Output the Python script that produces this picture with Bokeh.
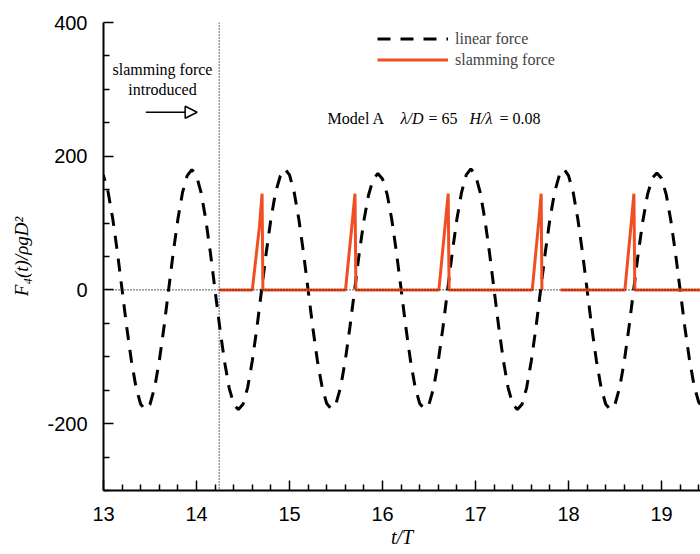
from bokeh.plotting import figure
from bokeh.models import (Range1d, FixedTicker, Legend, LegendItem, Label,
                          Arrow, NormalHead, Span)
from bokeh.embed import file_html
from bokeh.resources import INLINE

nan = float("nan")

# ---- data ----
time_linear = [
    12.95, 13.00, 13.05, 13.10, 13.15, 13.20, 13.25, 13.30, 13.35, 13.40,
    13.45, 13.50, 13.55, 13.60, 13.65, 13.70, 13.75, 13.80, 13.85, 13.90,
    13.95, 14.00, 14.05, 14.10, 14.15, 14.20, 14.25, 14.30, 14.35, 14.40,
    14.45, 14.50, 14.55, 14.60, 14.65, 14.70, 14.75, 14.80, 14.85, 14.90,
    14.95, 15.00, 15.05, 15.10, 15.15, 15.20, 15.25, 15.30, 15.35, 15.40,
    15.45, 15.50, 15.55, 15.60, 15.65, 15.70, 15.75, 15.80, 15.85, 15.90,
    15.95, 16.00, 16.05, 16.10, 16.15, 16.20, 16.25, 16.30, 16.35, 16.40,
    16.45, 16.50, 16.55, 16.60, 16.65, 16.70, 16.75, 16.80, 16.85, 16.90,
    16.95, 17.00, 17.05, 17.10, 17.15, 17.20, 17.25, 17.30, 17.35, 17.40,
    17.45, 17.50, 17.55, 17.60, 17.65, 17.70, 17.75, 17.80, 17.85, 17.90,
    17.95, 18.00, 18.05, 18.10, 18.15, 18.20, 18.25, 18.30, 18.35, 18.40,
    18.45, 18.50, 18.55, 18.60, 18.65, 18.70, 18.75, 18.80, 18.85, 18.90,
    18.95, 19.00, 19.05, 19.10, 19.15, 19.20, 19.25, 19.30, 19.35, 19.40,
    19.45,
]
linear_force = [
    180, 171, 146, 106, 56, 0, -56, -106, -146, -171,
    -179, -171, -146, -106, -56, 0, 56, 106, 146, 171,
    180, 171, 145, 105, 55, -1, -56, -106, -146, -171,
    -179, -171, -146, -106, -56, 0, 56, 106, 146, 170,
    181, 172, 146, 106, 56, 0, -56, -106, -145, -170,
    -178, -170, -145, -105, -55, 0, 55, 104, 142, 166,
    174, 166, 143, 105, 56, 1, -55, -105, -145, -170,
    -178, -171, -146, -106, -56, 0, 56, 106, 146, 172,
    181, 172, 146, 106, 56, 0, -56, -106, -146, -171,
    -179, -171, -146, -106, -56, 0, 56, 106, 146, 171,
    181, 171, 146, 106, 56, 0, -56, -106, -146, -171,
    -179, -171, -146, -106, -56, 0, 55, 104, 143, 167,
    175, 167, 143, 104, 55, 0, -55, -104, -143, -168,
    -177,
]

slam_time = [14.244,
             14.600, 14.677, 14.705, 14.714,
             15.602, 15.675, 15.704, 15.714,
             16.606, 16.677, 16.706, 16.716,
             17.610, 17.681, 17.706, 17.714, nan, 17.914,
             18.606, 18.677, 18.703, 18.713,
             19.45]
slam_force = [0,
              0, 95, 144, 0,
              0, 102, 144, 0,
              0, 102, 144, 0,
              0, 104, 144, 0, nan, 0,
              0, 104, 144, 0,
              0]

x_major = [13, 14, 15, 16, 17, 18, 19]
x_minor = [13.2, 13.4, 13.6, 13.8, 14.2, 14.4, 14.6, 14.8, 15.2, 15.4, 15.6,
           15.8, 16.2, 16.4, 16.6, 16.8, 17.2, 17.4, 17.6, 17.8, 18.2, 18.4,
           18.6, 18.8, 19.2, 19.4]
y_major = [-200, 0, 200, 400]
y_minor = [-300, -250, -150, -100, -50, 50, 100, 150, 250, 300, 350]
x_labels = ["13", "14", "15", "16", "17", "18", "19"]
y_labels = ["-200", "0", "200", "400"]

slam_start = slam_time[0]

SERIF = "Liberation Serif"
SANS = "Liberation Sans"
RED = "#f04e23"

p = figure(width=700, height=554, output_backend="svg", toolbar_location=None,
           x_range=Range1d(13, 19.419), y_range=Range1d(-300, 400),
           min_border_left=103, min_border_top=22, min_border_right=0,
           min_border_bottom=64)
p.xgrid.visible = False
p.ygrid.visible = False
p.outline_line_color = None
p.background_fill_color = "white"

p.xaxis.ticker = FixedTicker(ticks=x_major, minor_ticks=x_minor)
p.yaxis.ticker = FixedTicker(ticks=y_major, minor_ticks=y_minor)
p.xaxis.major_label_overrides = {v: s for v, s in zip(x_major, x_labels)}
p.yaxis.major_label_overrides = {v: s for v, s in zip(y_major, y_labels)}

for ax in (p.xaxis[0], p.yaxis[0]):
    ax.axis_line_width = 2
    ax.axis_line_color = "black"
    ax.major_tick_in = 10
    ax.major_tick_out = 0
    ax.minor_tick_in = 6
    ax.minor_tick_out = 0
    ax.major_tick_line_width = 1.5
    ax.minor_tick_line_width = 1.5
    ax.major_tick_line_color = "black"
    ax.minor_tick_line_color = "black"
    ax.major_label_text_font = SANS
    ax.major_label_text_font_size = "20px"
    ax.major_label_text_color = "black"
    ax.axis_label_text_font = SERIF
    ax.axis_label_text_font_style = "italic"
    ax.axis_label_text_color = "black"

p.xaxis.axis_label = "t/T"
p.xaxis.axis_label_text_font_size = "20px"
p.xaxis.major_label_standoff = 16
p.xaxis.axis_label_standoff = 2
p.yaxis.axis_label = "F\u2084(t)/\u03c1gD\u00b2"
p.yaxis.axis_label_text_font_size = "19px"
p.yaxis.major_label_standoff = 16
p.yaxis.axis_label_standoff = 12

r_lin = p.line(time_linear, linear_force, line_color="black", line_width=3,
               line_dash="13 10")
r_slam = p.line(slam_time, slam_force, line_color=RED, line_width=3)

p.add_layout(Span(location=0, dimension="width", line_color="black",
                  line_width=1.2, line_dash="1 2"))
p.add_layout(Span(location=slam_start, dimension="height", line_color="black",
                  line_width=1.2, line_dash="1 2"))

legend = Legend(items=[LegendItem(label="linear force", renderers=[r_lin]),
                       LegendItem(label="slamming force", renderers=[r_slam])],
                location=(274, 420), orientation="vertical",
                border_line_color=None, background_fill_alpha=0,
                padding=0, margin=0, spacing=0,
                glyph_width=71, glyph_height=21, label_height=21,
                label_standoff=7, label_text_font=SERIF,
                label_text_font_size="16px")
p.add_layout(legend)

def lab(x, y, text, align="left", style="normal"):
    p.add_layout(Label(x=x, y=y, text=text, text_align=align,
                       text_baseline="middle", text_font=SERIF,
                       text_font_size="16px", text_font_style=style,
                       text_color="black"))

lab(13.634, 330, "slamming force", "center")
lab(13.634, 300, "introduced", "center")
p.add_layout(Arrow(end=NormalHead(size=12, fill_color="white",
                                  line_color="black", line_width=1.5),
                   x_start=13.455, y_start=265.7, x_end=14.007, y_end=265.7,
                   line_width=1.5, line_color="black"))

lab(15.409, 256, "Model A")
lab(16.194, 256, "\u03bb/D", style="italic")
lab(16.495, 256, "= 65")
lab(16.935, 256, "H/\u03bb", style="italic")
lab(17.258, 256, "= 0.08")

open("out.html", "w").write(file_html(p, INLINE))
